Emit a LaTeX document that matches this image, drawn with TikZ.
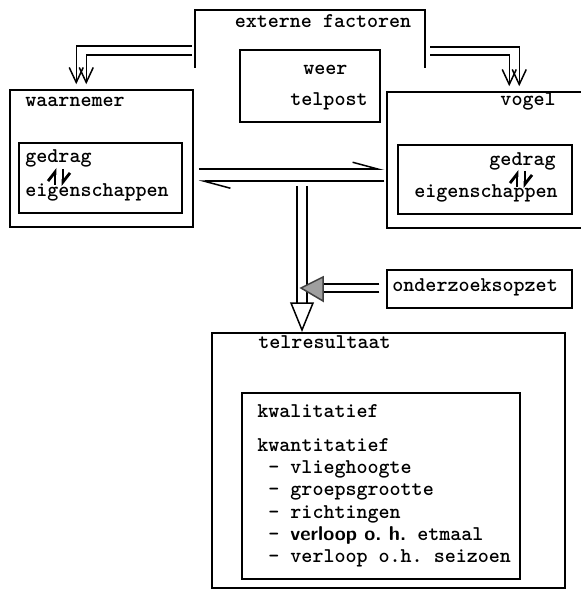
\documentclass[tikz,border=0pt]{standalone}
\usepackage{amssymb}
\usetikzlibrary{arrows.meta,calc,fit}

\newcommand\tekst{\fontsize{10.5}{11.15}\selectfont\ttfamily\bfseries\frenchspacing}

\tikzset{
  box/.style={draw, line width=0.75pt, inner sep=0pt},
  lbl/.style={font=\tekst, inner sep=0pt},
  pijl/.style={line width=0.75pt, -{Straight Barb[length=7.5pt,width=7pt]}, shorten >=2.5pt},
  harp/.style={line width=0.75pt, -{Straight Barb[left,length=13pt,width=7pt]}},
  heen/.style={line width=1.4pt, -{Straight Barb[left,length=4.5pt,width=7pt]}},
}

\begin{document}
\begin{tikzpicture}[x=0.5pt,y=-0.5pt]
\useasboundingbox (0,0) rectangle (581,592);

% externe factoren, open at the bottom
\draw[line width=0.75pt] (195,68) -- (195,10) -- (425,10) -- (425,68);
\node[lbl, anchor=base] (extern) at (323,28) {externe factoren};
\node[box, fit={(240,50) (380,122)}] (omgeving) {};
\node[lbl, anchor=base west] (weer) at (303,75) {weer};
\node[lbl, anchor=base west] (telpost) at (290,106) {telpost};

% waarnemer
\node[box, fit={(10,90) (193,227)}] (waarnemer) {};
\node[lbl, anchor=base west] (wnaam) at (25,107) {waarnemer};
\node[box, fit={(19,143) (182,213)}] (wbinnen) {};
\node[lbl, anchor=base west] (wgedrag) at (25,163) {gedrag};
\coordinate (wpijl) at (59,177);
\node[lbl, anchor=base west] (weigen) at (25,197) {eigenschappen};

% vogel
\node[box, fit={(387,92) (584,228)}] (vogel) {};
\node[lbl, anchor=base east] (vnaam) at (556,106) {vogel};
\node[box, fit={(398,145) (572,214)}] (vbinnen) {};
\node[lbl, anchor=base east] (vgedrag) at (556,166) {gedrag};
\coordinate (vpijl) at (521,179);
\node[lbl, anchor=base west] (veigen) at (414,198) {eigenschappen};

% gedrag <-> eigenschappen
\foreach \p in {wpijl,vpijl}{
  \draw[heen] ($(\p)+(-4,8)$) -- ($(\p)+(-4,-9)$);
  \draw[heen] ($(\p)+(4,-8)$) -- ($(\p)+(4,9)$);
}

% onderzoeksopzet
\node[box, fit={(387,270) (572,308)}] (opzet) {};
\node[lbl, anchor=base west] (opzettekst) at (392,292) {onderzoeksopzet};

% telresultaat
\node[box, fit={(212,333) (565,588)}] (telres) {};
\node[lbl, anchor=base west] (telnaam) at (258,348) {telresultaat};
\node[box, fit={(242,393) (520,579)}] (resbinnen) {};
\node[lbl, anchor=north west, align=left] (lijst) at (257,404) {kwalitatief\\[5.85pt]
kwantitatief\\
\ - vlieghoogte\\
\ - groepsgrootte\\
\ - richtingen\\
\ - {\fontsize{10}{11}\selectfont\sffamily\bfseries verloop o.\ h.}\ etmaal\\
\ - verloop o.h. seizoen};

% invloed van buiten
\coordinate (extL1) at (192,46);
\coordinate (extL2) at (192,55);
\coordinate (extR1) at (430,47);
\coordinate (extR2) at (430,55);
\draw[pijl] (extL1) -| ($(waarnemer.north west)+(67,0)$);
\draw[pijl] (extL2) -| ($(waarnemer.north west)+(77,0)$);
\draw[pijl] (extR1) -| ($(vogel.north west)+(133,0)$);
\draw[pijl] (extR2) -| ($(vogel.north west)+(123,0)$);

% wisselwerking
\draw[harp] ($(waarnemer.north east)+(5,80)$) -- ($(vogel.north west)+(-2,78)$);
\draw[harp] ($(vogel.north west)+(-2,90)$) -- ($(waarnemer.north east)+(5,92)$);

% naar telresultaat
\coordinate (kop) at (302,330);
\draw[line width=0.75pt] (297,186) -- ($(kop)+(-5,-27)$);
\draw[line width=0.75pt] (307,186) -- ($(kop)+(5,-27)$);
\filldraw[line width=0.75pt, fill=white] ($(kop)+(-11,-27)$) -- (kop) -- ($(kop)+(11,-27)$) -- cycle;

% onderzoeksopzet
\coordinate (gkop) at (301,288);
\draw[line width=0.75pt] ($(opzet.west |- gkop)+(-7,-4)$) -- ($(gkop)+(22,-4)$);
\draw[line width=0.75pt] ($(opzet.west |- gkop)+(-7,4)$) -- ($(gkop)+(22,4)$);
\filldraw[line width=0.75pt, fill=gray!75, draw=gray!50!black] ($(gkop)+(22,-11)$) -- (gkop) -- ($(gkop)+(22,13)$) -- cycle;

\end{tikzpicture}
\end{document}
